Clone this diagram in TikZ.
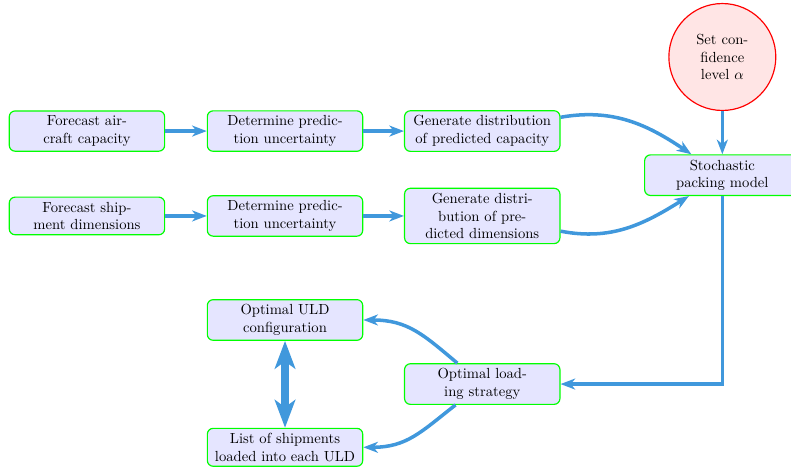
\documentclass[tikz,border=0pt]{standalone}
\usetikzlibrary{arrows.meta}

\definecolor{flowblue}{RGB}{64,152,220}

\begin{document}
\begin{tikzpicture}[
  block/.style={rectangle, draw=green, fill=blue!10, thick, rounded corners,
    text width=3.5cm, align=center},
  decide/.style={circle, draw=red, fill=red!10, thick, text width=1.5cm,
    align=center, minimum size=2.57cm, inner sep=0pt},
  flow/.style={draw=flowblue, line width=2.4pt,
    -{Stealth[length=10pt, width=7.5pt, inset=3pt]}},
  bothflow/.style={draw=flowblue, line width=5pt,
    {Stealth[length=19pt, width=14pt, inset=5pt]}-{Stealth[length=19pt, width=14pt, inset=5pt]}},
]
  \useasboundingbox (0,0) rectangle (19.01,-11.32);
  % first row
  \node (capfc)   at (2.09,-3.15)  [block] {Forecast aircraft capacity};
  \node (capunc)  at (6.85,-3.15)  [block] {Determine prediction uncertainty};
  \node (capdist) at (11.59,-3.15) [block] {Generate distribution of predicted capacity};
  % second row
  \node (dimfc)   at (2.09,-5.19)  [block] {Forecast shipment dimensions};
  \node (dimunc)  at (6.85,-5.19)  [block] {Determine prediction uncertainty};
  \node (dimdist) at (11.59,-5.19) [block] {Generate distribution of predicted dimensions};
  % model
  \node (alpha)   at (17.36,-1.37) [decide] {Set confidence level $\alpha$};
  \node (model)   at (17.36,-4.21) [block] {Stochastic packing model};
  % results
  \node (loading) at (11.59,-9.23) [block] {Optimal loading strategy};
  \node (uldconf) at (6.85,-7.69)  [block] {Optimal ULD configuration};
  \node (shiplist) at (6.85,-10.75) [block] {List of shipments loaded into each ULD};
  % connectors
  \draw[flow] (capfc) -- (capunc);
  \draw[flow] (capunc) -- (capdist);
  \draw[flow] (dimfc) -- (dimunc);
  \draw[flow] (dimunc) -- (dimdist);
  \draw[flow] (capdist) to[out=10, in=146] (model);
  \draw[flow] (dimdist) to[out=-11, in=212] (model);
  \draw[flow] (alpha) -- (model);
  \draw[flow] (model) |- (loading);
  \draw[flow] (loading) to[out=140, in=0, looseness=1.1] (uldconf);
  \draw[flow] (loading) to[out=218, in=0, looseness=1.1] (shiplist);
  \draw[bothflow] (uldconf) -- (shiplist);
\end{tikzpicture}
\end{document}
